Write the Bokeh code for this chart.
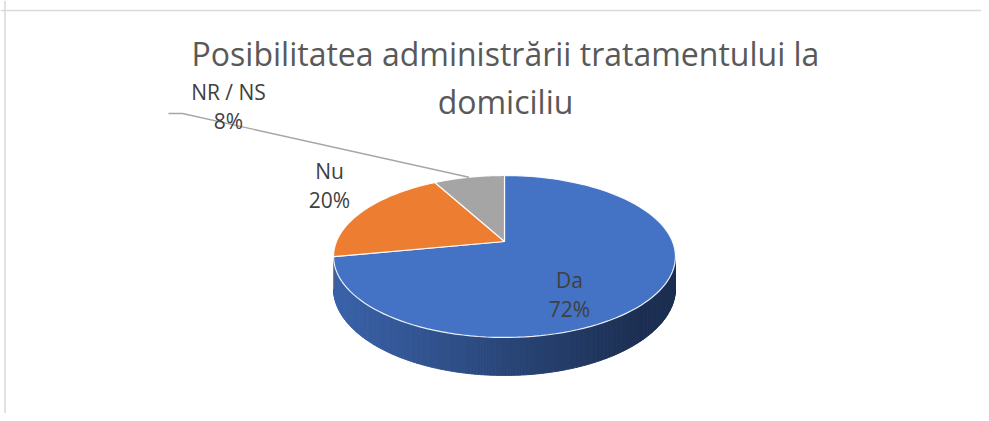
import numpy as np
from bokeh.plotting import figure
from bokeh.models import Range1d, Span
from bokeh.embed import file_html
from bokeh.resources import INLINE
from bokeh.core.properties import value

# ---------------- data ----------------
title_lines = ["Posibilitatea administrării tratamentului la", "domiciliu"]
categories = ["Da", "Nu", "NR / NS"]
values = [72, 20, 8]
colors = ["#4472C4", "#ED7D31", "#A5A5A5"]

# ---------------- layout (page pixel space) ----------------
W, H = 981, 413
CX, CY = 504, 241          # pie centre
A, B, K = 168, 78.2, 0.185  # horizontal radius, vertical radius, perspective
T = 31                      # thickness
label_pos = {"Da": (569, 279), "Nu": (329, 170), "NR / NS": (228, 91)}
leader_start = [(168, 113), (182, 113)]
title_y = [53, 101]
FONT = "Open Sans"


def rim(compass, drop=0.0):
    th = np.radians(90.0 - np.asarray(compass, dtype=float))
    dx, dz = np.cos(th), np.sin(th)
    s = 1 + K * dz
    return CX + A * dx / s, CY - B * dz / s + drop / s


def shade(hexcol, f):
    h = hexcol.lstrip("#")
    r, g, b = (int(h[i:i + 2], 16) for i in (0, 2, 4))
    return "#%02x%02x%02x" % (int(r * f), int(g * f), int(b * f))


p = figure(width=W, height=H, output_backend="svg", toolbar_location=None,
           x_range=Range1d(0, W), y_range=Range1d(H, 0),
           min_border=0, background_fill_color="white", border_fill_color="white")
p.axis.visible = False
p.grid.visible = False
p.outline_line_color = None

p.add_layout(Span(location=10, dimension="width", line_color="#d9d9d9", line_width=1.5))
p.add_layout(Span(location=4.5, dimension="height", line_color="#d9d9d9", line_width=1.5))

total = float(sum(values))
bounds = np.concatenate([[0], np.cumsum(values) / total * 360.0])

# ---- side (visible front arc) ----
vis0 = 90 + np.degrees(np.arcsin(K))
vis1 = 270 - np.degrees(np.arcsin(K))
sx, sy, sc = [], [], []
for i, col in enumerate(colors):
    a0, a1 = max(bounds[i], vis0), min(bounds[i + 1], vis1)
    if a1 <= a0:
        continue
    n = max(2, int((a1 - a0) * 1.2))
    edges = np.linspace(a0, a1, n + 1)
    for j in range(n):
        seg = np.linspace(edges[j], edges[j + 1], 3)
        tx, ty = rim(seg)
        bx, by = rim(seg[::-1], T)
        sx.append(list(tx) + list(bx))
        sy.append(list(ty) + list(by))
        xm = tx.mean()
        t = np.clip((xm - 340) / (640 - 340), 0, 1)
        sc.append(shade(col, 0.86 - 0.44 * t))
p.patches(sx, sy, fill_color=sc, line_color=sc, line_width=1)

# ---- top faces ----
xs, ys = [], []
for i in range(len(values)):
    seg = np.linspace(bounds[i], bounds[i + 1], 120)
    rx, ry = rim(seg)
    xs.append([CX] + list(rx))
    ys.append([CY] + list(ry))
p.patches(xs, ys, fill_color=colors, line_color="white", line_width=1.2, line_alpha=0.9)

# ---- leader line for the small slice ----
mid = (bounds[2] + bounds[3]) / 2
ex, ey = rim([mid])
p.line([leader_start[0][0], leader_start[1][0], ex[0]],
       [leader_start[0][1], leader_start[1][1], ey[0]],
       line_color="#a6a6a6", line_width=1.4)

# ---- labels ----
pcts = ["%d%%" % round(v * 100 / total) for v in values]
lx = [label_pos[c][0] for c in categories]
ly = [label_pos[c][1] for c in categories]
p.text(x=lx, y=ly, text=categories, text_font=value(FONT), text_font_size="21px",
       text_color="#404040", text_align="center", text_baseline="alphabetic")
p.text(x=lx, y=[y + 29 for y in ly], text=pcts, text_font=value(FONT), text_font_size="21px",
       text_color="#404040", text_align="center", text_baseline="alphabetic")

# ---- title ----
p.text(x=[505, 505], y=title_y, text=title_lines, text_font=value(FONT),
       text_font_size="32px", text_color="#595959", text_align="center",
       text_baseline="alphabetic")

open("out.html", "w").write(file_html(p, INLINE))
